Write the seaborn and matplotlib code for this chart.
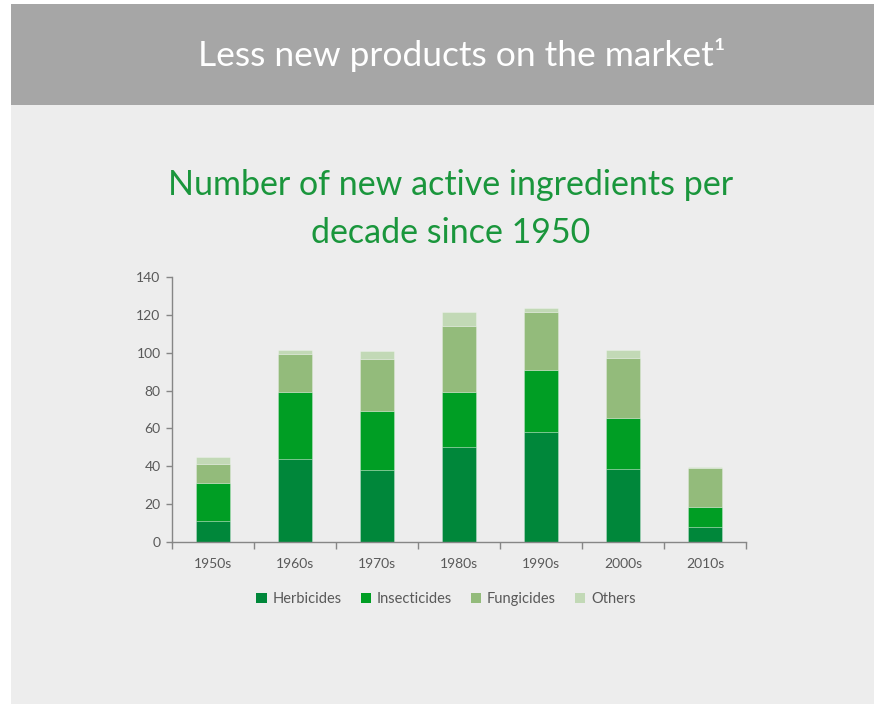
import matplotlib
matplotlib.use("Agg")
import matplotlib.pyplot as plt
import seaborn as sns
import numpy as np
import pandas as pd
from matplotlib.patches import Rectangle, Patch

decades = ["1950s", "1960s", "1970s", "1980s", "1990s", "2000s", "2010s"]
herbicides = [11, 44, 38, 50, 58, 38.3, 8]
insecticides = [20, 35.5, 31, 29.5, 33, 27.2, 10.4]
fungicides = [10, 20, 28, 34.8, 30.5, 32, 20.4]
others = [4, 2.2, 4.2, 7.3, 2.3, 4.2, 0.5]

series_names = ["Herbicides", "Insecticides", "Fungicides", "Others"]
series_vals = [herbicides, insecticides, fungicides, others]
colors = ["#00873a", "#009e24", "#93bb7b", "#c2d9b6"]

sns.set_theme(style="white")
plt.rcParams["font.family"] = ["Lato", "DejaVu Sans"]

W, H = 874, 704
fig = plt.figure(figsize=(W / 100, H / 100), dpi=100, facecolor="white")

# slide background & header band
fig.patches.append(Rectangle((11 / W, 0), 1 - 11 / W, (H - 105) / H,
                             transform=fig.transFigure, facecolor="#ededed",
                             edgecolor="none", zorder=-10))
fig.patches.append(Rectangle((11 / W, (H - 105) / H), 1 - 11 / W, 101 / H,
                             transform=fig.transFigure, facecolor="#a6a6a6",
                             edgecolor="none", zorder=-10))
fig.text(462 / W, 1 - 55 / H, "Less new products on the market\u00b9",
         ha="center", va="center", color="white", fontsize=25.5)
fig.text(451 / W, 1 - 209 / H,
         "Number of new active ingredients per\ndecade since 1950",
         ha="center", va="center", color="#1a963c", fontsize=24.5,
         linespacing=1.65)

ax = fig.add_axes([171.7 / W, 1 - 541.7 / H, (746 - 171.7) / W, (541.7 - 277.3) / H])
ax.set_facecolor("none")

bottom = np.zeros(len(decades))
for name, vals, col in zip(series_names, series_vals, colors):
    sns.barplot(x=decades, y=vals, bottom=bottom, color=col, width=0.41,
                saturation=1, ax=ax, edgecolor=(1, 1, 1, 0.25), linewidth=0.7,
                label=name)
    bottom = bottom + np.array(vals)

ax.set_ylim(0, 140)
ax.set_xlim(-0.5, len(decades) - 0.5)
ax.set_yticks(np.arange(0, 141, 20))
ax.set_xticks(range(len(decades)))
ax.set_xticklabels(decades)
ax.set_xticks(np.arange(-0.5, len(decades), 1), minor=True)
ax.tick_params(axis="x", which="major", length=0, pad=12, labelsize=10,
               labelcolor="#595959")
ax.tick_params(axis="x", which="minor", length=5, width=1, color="#868686",
               direction="out", bottom=True)
ax.tick_params(axis="y", length=4, width=1, color="#868686", direction="out",
               left=True, labelsize=10, labelcolor="#595959", pad=4)
for s in ["top", "right"]:
    ax.spines[s].set_visible(False)
for s in ["left", "bottom"]:
    ax.spines[s].set_color("#868686")
    ax.spines[s].set_linewidth(1)
ax.set_xlabel("")
ax.set_ylabel("")
ax.grid(False)

handles = [Patch(facecolor=c, edgecolor="none") for c in colors]
if ax.get_legend() is not None:
    ax.get_legend().remove()
fig.legend(handles, series_names, loc="center", bbox_to_anchor=(446 / W, 1 - 599 / H),
           ncol=4, frameon=False, fontsize=10.5, labelcolor="#595959",
           handlelength=0.7, handleheight=0.7, handletextpad=0.4,
           columnspacing=1.3)

fig.savefig("out.png", dpi=100, facecolor="white")
